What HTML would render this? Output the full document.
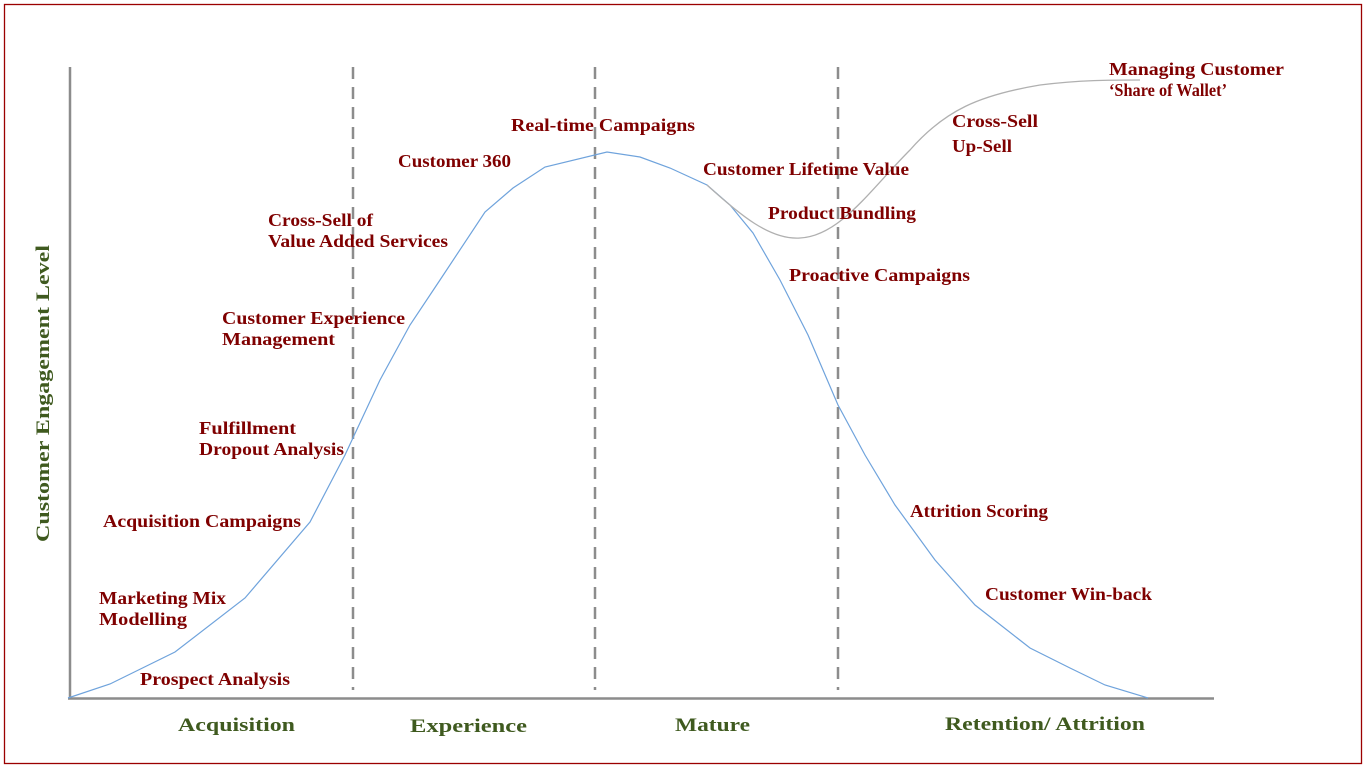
<!DOCTYPE html>
<html><head><meta charset="utf-8"><style>
html,body{margin:0;padding:0;background:#fff;}
svg{display:block;}
text{font-family:"Liberation Serif",serif;font-weight:bold;}
.r{fill:#7f0000;font-size:18px;}
.g{fill:#3f5a1f;font-size:19px;}
</style></head><body>
<svg width="1366" height="768" viewBox="0 0 1366 768" xmlns="http://www.w3.org/2000/svg">
<rect x="4.5" y="4.5" width="1357" height="759" fill="none" stroke="#9b0000" stroke-width="1.3"/>
<line x1="70" y1="67" x2="70" y2="699" stroke="#8c8c8c" stroke-width="2.5"/>
<line x1="68" y1="698.5" x2="1214" y2="698.5" stroke="#8c8c8c" stroke-width="2.5"/>
<g stroke="#8c8c8c" stroke-width="2.5" stroke-dasharray="12,8">
<line x1="353" y1="67" x2="353" y2="690"/>
<line x1="595" y1="67" x2="595" y2="690"/>
<line x1="838" y1="67" x2="838" y2="690"/>
</g>
<polyline fill="none" stroke="#6fa3dc" stroke-width="1.2" points="68,698 110,684 175,652 245,598 310,522 345,455 380,380 410,325 440,280 485,212 513,188 545,167 607,152 640,157 670,168 707,185 730,205 753,233 780,280 808,335 838,405 865,455 895,505 935,560 975,605 1030,648 1070,668 1105,685 1148,698"/>
<path fill="none" stroke="#b0b0b0" stroke-width="1.3" d="M707,185 C740,215 770,240 800,238 C840,236 870,190 910,150 C945,110 980,95 1040,85 C1080,80 1110,80 1140,80"/>
<text class="r" x="1109" y="75" textLength="175" lengthAdjust="spacingAndGlyphs">Managing Customer</text>
<text class="r" x="1109" y="96" textLength="118" lengthAdjust="spacingAndGlyphs">‘Share of Wallet’</text>
<text class="r" x="511" y="131" textLength="184" lengthAdjust="spacingAndGlyphs">Real-time Campaigns</text>
<text class="r" x="398" y="167" textLength="113" lengthAdjust="spacingAndGlyphs">Customer 360</text>
<text class="r" x="268" y="226" textLength="105" lengthAdjust="spacingAndGlyphs">Cross-Sell of</text>
<text class="r" x="268" y="247" textLength="180" lengthAdjust="spacingAndGlyphs">Value Added Services</text>
<text class="r" x="222" y="324" textLength="183" lengthAdjust="spacingAndGlyphs">Customer Experience</text>
<text class="r" x="222" y="345" textLength="113" lengthAdjust="spacingAndGlyphs">Management</text>
<text class="r" x="199" y="434" textLength="97" lengthAdjust="spacingAndGlyphs">Fulfillment</text>
<text class="r" x="199" y="455" textLength="145" lengthAdjust="spacingAndGlyphs">Dropout Analysis</text>
<text class="r" x="103" y="527" textLength="198" lengthAdjust="spacingAndGlyphs">Acquisition Campaigns</text>
<text class="r" x="99" y="604" textLength="127" lengthAdjust="spacingAndGlyphs">Marketing Mix</text>
<text class="r" x="99" y="625" textLength="88" lengthAdjust="spacingAndGlyphs">Modelling</text>
<text class="r" x="140" y="685" textLength="150" lengthAdjust="spacingAndGlyphs">Prospect Analysis</text>
<text class="r" x="703" y="175" textLength="206" lengthAdjust="spacingAndGlyphs">Customer Lifetime Value</text>
<text class="r" x="768" y="219" textLength="148" lengthAdjust="spacingAndGlyphs">Product Bundling</text>
<text class="r" x="789" y="281" textLength="181" lengthAdjust="spacingAndGlyphs">Proactive Campaigns</text>
<text class="r" x="952" y="127" textLength="86" lengthAdjust="spacingAndGlyphs">Cross-Sell</text>
<text class="r" x="952" y="152" textLength="60" lengthAdjust="spacingAndGlyphs">Up-Sell</text>
<text class="r" x="910" y="517" textLength="138" lengthAdjust="spacingAndGlyphs">Attrition Scoring</text>
<text class="r" x="985" y="600" textLength="167" lengthAdjust="spacingAndGlyphs">Customer Win-back</text>
<text class="g" x="178" y="731" textLength="117" lengthAdjust="spacingAndGlyphs">Acquisition</text>
<text class="g" x="410" y="732" textLength="117" lengthAdjust="spacingAndGlyphs">Experience</text>
<text class="g" x="675" y="731" textLength="75" lengthAdjust="spacingAndGlyphs">Mature</text>
<text class="g" x="945" y="730" textLength="200" lengthAdjust="spacingAndGlyphs">Retention/ Attrition</text>
<text class="g" transform="translate(49,542) rotate(-90)" x="0" y="0" textLength="297" lengthAdjust="spacingAndGlyphs">Customer Engagement Level</text>
</svg>
</body></html>
